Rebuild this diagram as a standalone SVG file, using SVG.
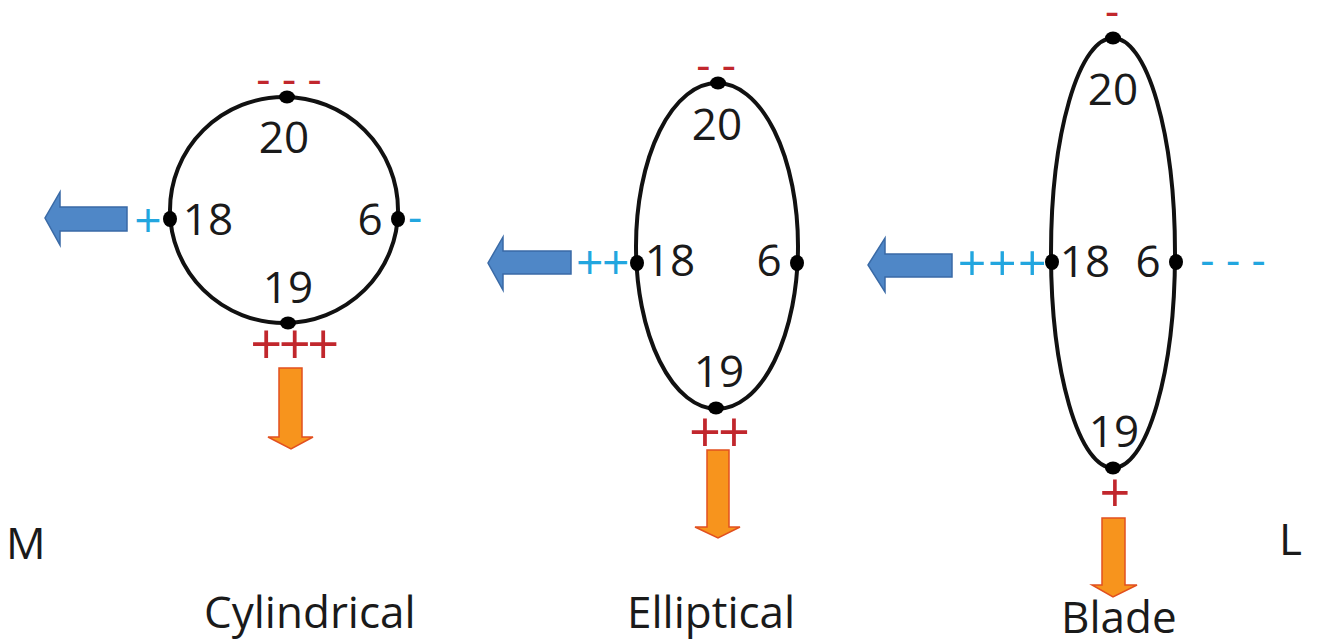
<svg xmlns="http://www.w3.org/2000/svg" width="1319" height="643" viewBox="0 0 1319 643">
  <style>
    .outline { fill: none; stroke: #111; stroke-width: 4; }
    .dot { fill: #000; }
    .num { font-family: "Open Sans", "Noto Sans", sans-serif; font-size: 44px; fill: #1a1a1a; text-anchor: middle; }
    .label { font-family: "Open Sans", "Noto Sans", sans-serif; font-size: 44px; fill: #1a1a1a; }
    .sign { font-family: "Open Sans", "Noto Sans", sans-serif; text-anchor: middle; }
    .red { fill: #c1272d; }
    .cyan { fill: #22a6df; }
    .blue-arrow { fill: #4f87c7; stroke: #3a6aa6; stroke-width: 1.5; stroke-linejoin: miter; }
    .orange-arrow { fill: #f7941d; stroke: #e2501f; stroke-width: 1.5; stroke-linejoin: miter; }
  </style>

  <!-- Cylindrical cross-section -->
  <g id="cylindrical">
    <ellipse class="outline" cx="284" cy="210" rx="114" ry="113"/>
    <ellipse class="dot" cx="287" cy="97" rx="8" ry="6.5"/>
    <ellipse class="dot" cx="288" cy="323" rx="8" ry="6.5"/>
    <ellipse class="dot" cx="170" cy="219" rx="7" ry="8"/>
    <ellipse class="dot" cx="398" cy="219" rx="7" ry="8"/>
    <text class="num" x="284" y="153">20</text>
    <text class="num" x="208" y="235">18</text>
    <text class="num" x="370" y="235">6</text>
    <text class="num" x="288" y="303">19</text>
    <text class="sign red" x="289" y="94" font-size="44">- - -</text>
    <text class="sign red" x="293" y="364" font-size="56" letter-spacing="-3.5">+++</text>
    <text class="sign cyan" x="148" y="237" font-size="48">+</text>
    <text class="sign cyan" x="415" y="232" font-size="44">-</text>
    <text class="label" x="204" y="628">Cylindrical</text>
  </g>

  <!-- Elliptical cross-section -->
  <g id="elliptical">
    <ellipse class="outline" cx="717" cy="246" rx="81" ry="163"/>
    <ellipse class="dot" cx="718" cy="83" rx="8" ry="6.5"/>
    <ellipse class="dot" cx="716" cy="408" rx="8" ry="6.5"/>
    <ellipse class="dot" cx="637" cy="263" rx="7" ry="8"/>
    <ellipse class="dot" cx="797" cy="263" rx="7" ry="8"/>
    <text class="num" x="717" y="140">20</text>
    <text class="num" x="670" y="276">18</text>
    <text class="num" x="769" y="276">6</text>
    <text class="num" x="719" y="387">19</text>
    <text class="sign red" x="716" y="80" font-size="44">- -</text>
    <text class="sign red" x="718" y="452" font-size="56" letter-spacing="-3">++</text>
    <text class="sign cyan" x="602" y="279" font-size="48" letter-spacing="-1.5">++</text>
    <text class="label" x="627" y="628">Elliptical</text>
  </g>

  <!-- Blade cross-section -->
  <g id="blade">
    <ellipse class="outline" cx="1113" cy="253" rx="62" ry="215"/>
    <ellipse class="dot" cx="1113" cy="38" rx="8" ry="6.5"/>
    <ellipse class="dot" cx="1113" cy="468" rx="8" ry="6.5"/>
    <ellipse class="dot" cx="1052" cy="262" rx="7" ry="8"/>
    <ellipse class="dot" cx="1176" cy="262" rx="7" ry="8"/>
    <text class="num" x="1113" y="105">20</text>
    <text class="num" x="1085" y="277">18</text>
    <text class="num" x="1148" y="277">6</text>
    <text class="num" x="1114" y="447">19</text>
    <text class="sign red" x="1112" y="26" font-size="44">-</text>
    <text class="sign red" x="1115" y="512" font-size="54">+</text>
    <text class="sign cyan" x="1003" y="281" font-size="50" letter-spacing="1.5">+++</text>
    <text class="sign cyan" x="1233" y="275" font-size="44">- - -</text>
    <text class="label" x="1061" y="633">Blade</text>
  </g>

  <!-- Side labels -->
  <g id="side-labels">
    <text class="label" x="6" y="559">M</text>
    <text class="label" x="1279" y="555">L</text>
  </g>

  <!-- Direction arrows -->
  <g id="arrows">
    <path class="blue-arrow" d="M127,207 L60,207 L60,192 L45,218 L60,245 L60,231 L127,231 Z"/>
    <path class="blue-arrow" d="M571,251 L503,251 L503,237 L488,263 L503,290 L503,274 L571,274 Z"/>
    <path class="blue-arrow" d="M952,254 L885,254 L885,238 L868,265 L885,292 L885,277 L952,277 Z"/>
    <path class="orange-arrow" d="M279,368 L302,368 L302,437 L313,437 L291,449 L268,437 L279,437 Z"/>
    <path class="orange-arrow" d="M707,450 L729,450 L729,527 L740,527 L718,538 L695,527 L707,527 Z"/>
    <path class="orange-arrow" d="M1102,518 L1125,518 L1125,585 L1137,585 L1113,597 L1092,585 L1102,585 Z"/>
  </g>
</svg>
